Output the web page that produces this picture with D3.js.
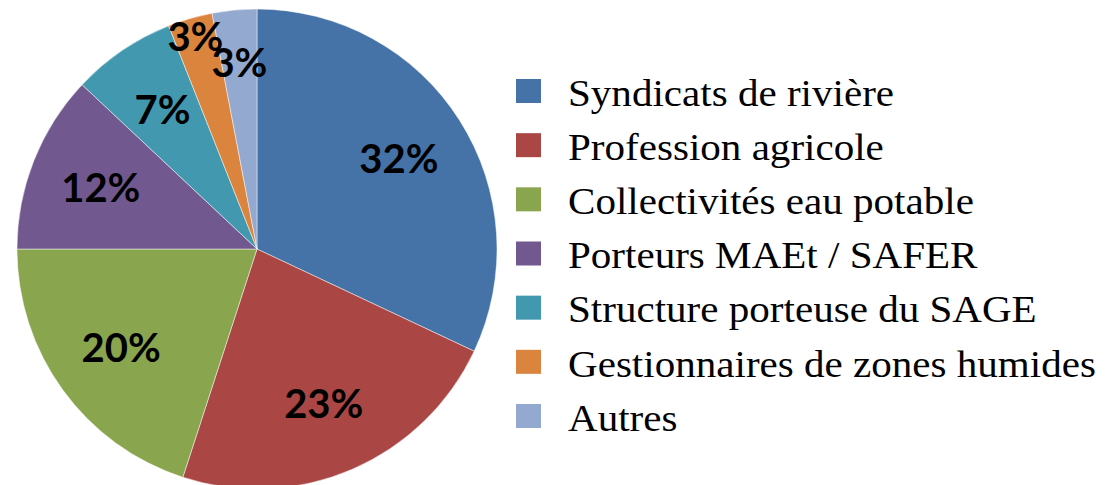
<!DOCTYPE html>
<html>
<head>
<meta charset="utf-8">
<script src="https://cdn.jsdelivr.net/npm/d3@7"></script>
<style>
  body { margin: 0; background: #fff; }
  svg { display: block; }
</style>
</head>
<body>
<script>
const WIDTH = 1107;
const HEIGHT = 485;

// donnees du graphique
const categories = [
  "Syndicats de rivière",
  "Profession agricole",
  "Collectivités eau potable",
  "Porteurs MAEt / SAFER",
  "Structure porteuse du SAGE",
  "Gestionnaires de zones humides",
  "Autres"
];
const valeurs = [32, 23, 20, 12, 7, 3, 3];
const couleurs = ["#4572A7", "#AA4643", "#89A54E", "#71588F", "#4198AF", "#DB843D", "#93A9CF"];

const SVG = d3
  .select("body")
  .append("svg")
  .attr("width", WIDTH)
  .attr("height", HEIGHT);

const R = 240;
const cx = 257;
const cy = 249;

const donnees = categories.map((c, i) => ({ nom: c, valeur: valeurs[i], couleur: couleurs[i] }));

const pie = d3.pie()
  .value((d) => d.valeur)
  .sort(null);

const arcs = pie(donnees);
const arc = d3.arc().innerRadius(0).outerRadius(R);

const gPie = SVG.append("g").attr("transform", `translate(${cx},${cy})`);

gPie.selectAll("path")
  .data(arcs)
  .join("path")
  .attr("d", arc)
  .attr("fill", (d) => d.data.couleur)
  .attr("stroke", "#fff")
  .attr("stroke-opacity", 0.6)
  .attr("stroke-width", 0.8);

// etiquettes : les petites tranches alternent de rayon pour ne pas se chevaucher
const rayonEtiquette = (d, i) => {
  if (d.data.valeur >= 5) return R * 0.7;
  return i % 2 ? R * 0.92 : R * 0.78;
};

gPie.selectAll("text")
  .data(arcs)
  .join("text")
  .attr("transform", (d, i) => {
    const r = rayonEtiquette(d, i);
    const c = d3.arc().innerRadius(r).outerRadius(r).centroid(d);
    return `translate(${c[0]},${c[1]})`;
  })
  .attr("text-anchor", "middle")
  .attr("dy", "0.36em")
  .attr("font-family", "Lato, 'Open Sans', sans-serif")
  .attr("font-weight", "bold")
  .attr("font-size", 40)
  .attr("fill", "#000")
  .text((d) => `${d.data.valeur}%`);

// legende
const y = d3.scalePoint()
  .domain(categories)
  .range([91, 416]);

const legende = SVG.append("g")
  .selectAll("g")
  .data(donnees)
  .join("g")
  .attr("transform", (d) => `translate(516,${y(d.nom)})`);

legende.append("rect")
  .attr("x", 0)
  .attr("y", -12)
  .attr("width", 25)
  .attr("height", 24)
  .attr("fill", (d) => d.couleur);

// le texte de la reference est plus large que Times, on etire un peu
legende.append("text")
  .attr("transform", "translate(52,0) scale(1.11,1)")
  .attr("dy", "0.4em")
  .attr("font-family", "'Liberation Serif', 'Times New Roman', serif")
  .attr("font-size", 37)
  .attr("fill", "#000")
  .text((d) => d.nom);
</script>
</body>
</html>
